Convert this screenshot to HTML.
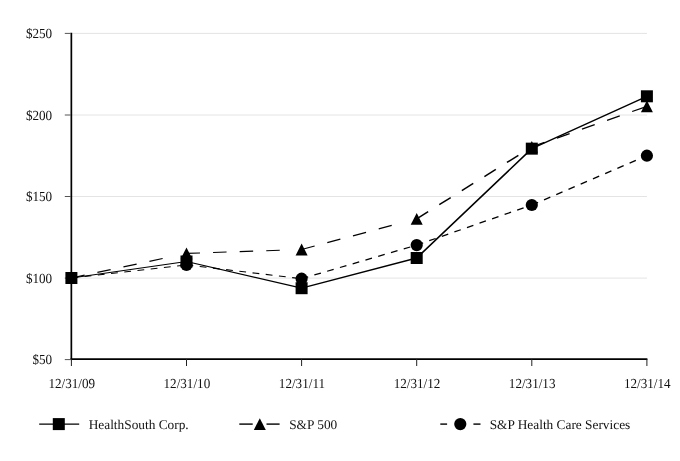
<!DOCTYPE html>
<html><head><meta charset="utf-8"><title>Chart</title>
<style>html,body{margin:0;padding:0;background:#fff}svg{display:block;text-rendering:geometricPrecision}</style></head>
<body>
<svg width="680" height="461" viewBox="0 0 680 461">
<rect width="680" height="461" fill="#fff"/>
<line x1="72" y1="33.4" x2="647" y2="33.4" stroke="#e4e4e4" stroke-width="1"/>
<line x1="72" y1="115.0" x2="647" y2="115.0" stroke="#e4e4e4" stroke-width="1"/>
<line x1="72" y1="196.5" x2="647" y2="196.5" stroke="#e4e4e4" stroke-width="1"/>
<line x1="72" y1="278.1" x2="647" y2="278.1" stroke="#e4e4e4" stroke-width="1"/>
<line x1="71.35" y1="32.8" x2="71.35" y2="360.0" stroke="#000" stroke-width="1.7"/>
<line x1="70.5" y1="359.1" x2="647.4" y2="359.1" stroke="#000" stroke-width="1.8"/>
<line x1="64.8" y1="33.4" x2="71" y2="33.4" stroke="#555" stroke-width="1"/>
<line x1="64.8" y1="115.0" x2="71" y2="115.0" stroke="#555" stroke-width="1"/>
<line x1="64.8" y1="196.5" x2="71" y2="196.5" stroke="#555" stroke-width="1"/>
<line x1="64.8" y1="278.1" x2="71" y2="278.1" stroke="#555" stroke-width="1"/>
<line x1="64.8" y1="359.6" x2="71" y2="359.6" stroke="#555" stroke-width="1"/>
<line x1="71.40" y1="359.1" x2="71.40" y2="366" stroke="#222" stroke-width="1"/>
<line x1="186.50" y1="359.1" x2="186.50" y2="366" stroke="#222" stroke-width="1"/>
<line x1="301.60" y1="359.1" x2="301.60" y2="366" stroke="#222" stroke-width="1"/>
<line x1="416.70" y1="359.1" x2="416.70" y2="366" stroke="#222" stroke-width="1"/>
<line x1="531.80" y1="359.1" x2="531.80" y2="366" stroke="#222" stroke-width="1"/>
<line x1="646.90" y1="359.1" x2="646.90" y2="366" stroke="#222" stroke-width="1"/>
<line x1="71.40" y1="278.00" x2="186.50" y2="261.50" stroke="#000" stroke-width="1.23" stroke-linecap="round"/>
<line x1="186.50" y1="261.50" x2="301.60" y2="288.20" stroke="#000" stroke-width="1.28" stroke-linecap="round"/>
<line x1="301.60" y1="288.20" x2="416.70" y2="258.00" stroke="#000" stroke-width="1.30" stroke-linecap="round"/>
<line x1="416.70" y1="258.00" x2="531.80" y2="148.65" stroke="#000" stroke-width="1.60" stroke-linecap="round"/>
<line x1="531.80" y1="148.65" x2="646.90" y2="96.30" stroke="#000" stroke-width="1.43" stroke-linecap="round"/>
<line x1="71.40" y1="278.00" x2="84.60" y2="275.18" stroke="#000" stroke-width="1.18"/>
<line x1="97.41" y1="272.44" x2="110.61" y2="269.62" stroke="#000" stroke-width="1.18"/>
<line x1="123.43" y1="266.88" x2="136.63" y2="264.06" stroke="#000" stroke-width="1.18"/>
<line x1="149.44" y1="261.32" x2="162.64" y2="258.50" stroke="#000" stroke-width="1.18"/>
<line x1="186.50" y1="253.40" x2="199.99" y2="252.94" stroke="#000" stroke-width="1.10"/>
<line x1="213.08" y1="252.50" x2="226.58" y2="252.04" stroke="#000" stroke-width="1.10"/>
<line x1="239.67" y1="251.60" x2="253.16" y2="251.14" stroke="#000" stroke-width="1.10"/>
<line x1="266.25" y1="250.70" x2="279.75" y2="250.24" stroke="#000" stroke-width="1.10"/>
<line x1="301.60" y1="249.50" x2="314.64" y2="246.02" stroke="#000" stroke-width="1.22"/>
<line x1="327.30" y1="242.64" x2="340.35" y2="239.17" stroke="#000" stroke-width="1.22"/>
<line x1="353.00" y1="235.79" x2="366.05" y2="232.31" stroke="#000" stroke-width="1.22"/>
<line x1="378.70" y1="228.93" x2="391.75" y2="225.46" stroke="#000" stroke-width="1.22"/>
<line x1="416.70" y1="218.80" x2="428.15" y2="211.65" stroke="#000" stroke-width="1.50"/>
<line x1="439.26" y1="204.71" x2="450.71" y2="197.56" stroke="#000" stroke-width="1.50"/>
<line x1="461.82" y1="190.61" x2="473.27" y2="183.46" stroke="#000" stroke-width="1.50"/>
<line x1="484.38" y1="176.52" x2="495.83" y2="169.37" stroke="#000" stroke-width="1.50"/>
<line x1="506.94" y1="162.43" x2="518.39" y2="155.28" stroke="#000" stroke-width="1.50"/>
<line x1="531.80" y1="146.90" x2="544.53" y2="142.41" stroke="#000" stroke-width="1.30"/>
<line x1="556.89" y1="138.05" x2="569.62" y2="133.56" stroke="#000" stroke-width="1.30"/>
<line x1="581.97" y1="129.20" x2="594.70" y2="124.71" stroke="#000" stroke-width="1.30"/>
<line x1="607.06" y1="120.35" x2="619.79" y2="115.86" stroke="#000" stroke-width="1.30"/>
<line x1="632.14" y1="111.51" x2="644.87" y2="107.02" stroke="#000" stroke-width="1.30"/>
<line x1="71.40" y1="278.00" x2="78.16" y2="277.23" stroke="#000" stroke-width="1.13"/>
<line x1="84.61" y1="276.50" x2="91.37" y2="275.73" stroke="#000" stroke-width="1.13"/>
<line x1="97.83" y1="274.99" x2="104.59" y2="274.22" stroke="#000" stroke-width="1.13"/>
<line x1="111.04" y1="273.49" x2="117.80" y2="272.72" stroke="#000" stroke-width="1.13"/>
<line x1="124.26" y1="271.98" x2="131.02" y2="271.21" stroke="#000" stroke-width="1.13"/>
<line x1="137.47" y1="270.48" x2="144.23" y2="269.71" stroke="#000" stroke-width="1.13"/>
<line x1="150.69" y1="268.98" x2="157.44" y2="268.21" stroke="#000" stroke-width="1.13"/>
<line x1="163.90" y1="267.47" x2="170.66" y2="266.70" stroke="#000" stroke-width="1.13"/>
<line x1="177.12" y1="265.97" x2="183.87" y2="265.20" stroke="#000" stroke-width="1.13"/>
<line x1="186.50" y1="264.90" x2="193.25" y2="265.71" stroke="#000" stroke-width="1.13"/>
<line x1="199.71" y1="266.48" x2="206.46" y2="267.29" stroke="#000" stroke-width="1.13"/>
<line x1="212.91" y1="268.07" x2="219.66" y2="268.88" stroke="#000" stroke-width="1.13"/>
<line x1="226.12" y1="269.65" x2="232.87" y2="270.46" stroke="#000" stroke-width="1.13"/>
<line x1="239.32" y1="271.23" x2="246.07" y2="272.04" stroke="#000" stroke-width="1.13"/>
<line x1="252.53" y1="272.82" x2="259.28" y2="273.63" stroke="#000" stroke-width="1.13"/>
<line x1="265.73" y1="274.40" x2="272.48" y2="275.21" stroke="#000" stroke-width="1.13"/>
<line x1="278.94" y1="275.98" x2="285.69" y2="276.79" stroke="#000" stroke-width="1.13"/>
<line x1="292.14" y1="277.57" x2="298.90" y2="278.38" stroke="#000" stroke-width="1.13"/>
<line x1="301.60" y1="278.70" x2="308.13" y2="276.79" stroke="#000" stroke-width="1.24"/>
<line x1="314.37" y1="274.97" x2="320.89" y2="273.07" stroke="#000" stroke-width="1.24"/>
<line x1="327.13" y1="271.25" x2="333.66" y2="269.34" stroke="#000" stroke-width="1.24"/>
<line x1="339.90" y1="267.52" x2="346.43" y2="265.61" stroke="#000" stroke-width="1.24"/>
<line x1="352.67" y1="263.79" x2="359.20" y2="261.89" stroke="#000" stroke-width="1.24"/>
<line x1="365.44" y1="260.07" x2="371.96" y2="258.16" stroke="#000" stroke-width="1.24"/>
<line x1="378.20" y1="256.34" x2="384.73" y2="254.43" stroke="#000" stroke-width="1.24"/>
<line x1="390.97" y1="252.61" x2="397.50" y2="250.71" stroke="#000" stroke-width="1.24"/>
<line x1="403.74" y1="248.88" x2="410.26" y2="246.98" stroke="#000" stroke-width="1.24"/>
<line x1="416.70" y1="245.10" x2="423.12" y2="242.86" stroke="#000" stroke-width="1.29"/>
<line x1="429.26" y1="240.72" x2="435.68" y2="238.49" stroke="#000" stroke-width="1.29"/>
<line x1="441.82" y1="236.35" x2="448.24" y2="234.11" stroke="#000" stroke-width="1.29"/>
<line x1="454.38" y1="231.97" x2="460.80" y2="229.74" stroke="#000" stroke-width="1.29"/>
<line x1="466.94" y1="227.60" x2="473.36" y2="225.36" stroke="#000" stroke-width="1.29"/>
<line x1="479.50" y1="223.22" x2="485.92" y2="220.98" stroke="#000" stroke-width="1.29"/>
<line x1="492.06" y1="218.85" x2="498.48" y2="216.61" stroke="#000" stroke-width="1.29"/>
<line x1="504.62" y1="214.47" x2="511.04" y2="212.23" stroke="#000" stroke-width="1.29"/>
<line x1="517.18" y1="210.09" x2="523.60" y2="207.86" stroke="#000" stroke-width="1.29"/>
<line x1="531.80" y1="205.00" x2="538.05" y2="202.32" stroke="#000" stroke-width="1.36"/>
<line x1="544.03" y1="199.76" x2="550.28" y2="197.09" stroke="#000" stroke-width="1.36"/>
<line x1="556.25" y1="194.53" x2="562.50" y2="191.85" stroke="#000" stroke-width="1.36"/>
<line x1="568.48" y1="189.29" x2="574.73" y2="186.61" stroke="#000" stroke-width="1.36"/>
<line x1="580.70" y1="184.05" x2="586.95" y2="181.38" stroke="#000" stroke-width="1.36"/>
<line x1="592.93" y1="178.82" x2="599.18" y2="176.14" stroke="#000" stroke-width="1.36"/>
<line x1="605.15" y1="173.58" x2="611.41" y2="170.90" stroke="#000" stroke-width="1.36"/>
<line x1="617.38" y1="168.34" x2="623.63" y2="165.67" stroke="#000" stroke-width="1.36"/>
<line x1="629.61" y1="163.11" x2="635.86" y2="160.43" stroke="#000" stroke-width="1.36"/>
<rect x="65.40" y="272.00" width="12" height="12" fill="#000"/>
<rect x="180.50" y="255.50" width="12" height="12" fill="#000"/>
<rect x="295.60" y="282.20" width="12" height="12" fill="#000"/>
<rect x="410.70" y="252.00" width="12" height="12" fill="#000"/>
<rect x="525.80" y="142.65" width="12" height="12" fill="#000"/>
<rect x="640.90" y="90.30" width="12" height="12" fill="#000"/>
<polygon points="186.50,247.50 192.50,259.30 180.50,259.30" fill="#000"/>
<polygon points="301.60,243.60 307.60,255.40 295.60,255.40" fill="#000"/>
<polygon points="416.70,212.90 422.70,224.70 410.70,224.70" fill="#000"/>
<polygon points="531.80,141.00 537.80,152.80 525.80,152.80" fill="#000"/>
<polygon points="646.90,100.40 652.90,112.20 640.90,112.20" fill="#000"/>
<circle cx="186.50" cy="264.90" r="6.1" fill="#000"/>
<circle cx="301.60" cy="278.70" r="6.1" fill="#000"/>
<circle cx="416.70" cy="245.10" r="6.1" fill="#000"/>
<circle cx="531.80" cy="205.00" r="6.1" fill="#000"/>
<circle cx="646.90" cy="155.70" r="6.1" fill="#000"/>
<text transform="translate(52.15 37.80) rotate(0.02) scale(0.985 1.04)" text-anchor="end" font-family="Liberation Serif, serif" font-size="13.33" fill="#111">$250</text>
<text transform="translate(52.15 119.70) rotate(0.02) scale(0.985 1.04)" text-anchor="end" font-family="Liberation Serif, serif" font-size="13.33" fill="#111">$200</text>
<text transform="translate(52.15 201.30) rotate(0.02) scale(0.985 1.04)" text-anchor="end" font-family="Liberation Serif, serif" font-size="13.33" fill="#111">$150</text>
<text transform="translate(52.15 282.80) rotate(0.02) scale(0.985 1.04)" text-anchor="end" font-family="Liberation Serif, serif" font-size="13.33" fill="#111">$100</text>
<text transform="translate(52.15 364.20) rotate(0.02) scale(0.985 1.04)" text-anchor="end" font-family="Liberation Serif, serif" font-size="13.33" fill="#111">$50</text>
<text transform="translate(71.75 387.80) rotate(0.02) scale(0.985 1.035)" text-anchor="middle" font-family="Liberation Serif, serif" font-size="13.33" fill="#111">12/31/09</text>
<text transform="translate(186.85 387.80) rotate(0.02) scale(0.985 1.035)" text-anchor="middle" font-family="Liberation Serif, serif" font-size="13.33" fill="#111">12/31/10</text>
<text transform="translate(301.95 387.80) rotate(0.02) scale(0.985 1.035)" text-anchor="middle" font-family="Liberation Serif, serif" font-size="13.33" fill="#111">12/31/11</text>
<text transform="translate(417.05 387.80) rotate(0.02) scale(0.985 1.035)" text-anchor="middle" font-family="Liberation Serif, serif" font-size="13.33" fill="#111">12/31/12</text>
<text transform="translate(532.15 387.80) rotate(0.02) scale(0.985 1.035)" text-anchor="middle" font-family="Liberation Serif, serif" font-size="13.33" fill="#111">12/31/13</text>
<text transform="translate(647.25 387.80) rotate(0.02) scale(0.985 1.035)" text-anchor="middle" font-family="Liberation Serif, serif" font-size="13.33" fill="#111">12/31/14</text>
<line x1="39.2" y1="424.1" x2="79.2" y2="424.1" stroke="#000" stroke-width="1.4"/>
<rect x="52.80" y="418.10" width="12" height="12" fill="#000"/>
<text transform="translate(88.70 429.40) rotate(0.02) scale(1 1.0)" text-anchor="start" font-family="Liberation Serif, serif" font-size="13.33" fill="#111">HealthSouth Corp.</text>
<line x1="239.3" y1="424.1" x2="252.7" y2="424.1" stroke="#000" stroke-width="1.4"/>
<line x1="266.5" y1="424.1" x2="279.6" y2="424.1" stroke="#000" stroke-width="1.4"/>
<polygon points="259.80,418.20 265.80,430.00 253.80,430.00" fill="#000"/>
<text transform="translate(289.20 429.40) rotate(0.02) scale(1 1.0)" text-anchor="start" font-family="Liberation Serif, serif" font-size="13.33" fill="#111">S&amp;P 500</text>
<line x1="440.3" y1="424.1" x2="447.1" y2="424.1" stroke="#000" stroke-width="1.4"/>
<line x1="473.4" y1="424.1" x2="480.5" y2="424.1" stroke="#000" stroke-width="1.4"/>
<circle cx="460.30" cy="424.10" r="6.1" fill="#000"/>
<text transform="translate(489.70 429.40) rotate(0.02) scale(1 1.0)" text-anchor="start" font-family="Liberation Serif, serif" font-size="13.33" fill="#111">S&amp;P Health Care Services</text>
</svg>
</body></html>
